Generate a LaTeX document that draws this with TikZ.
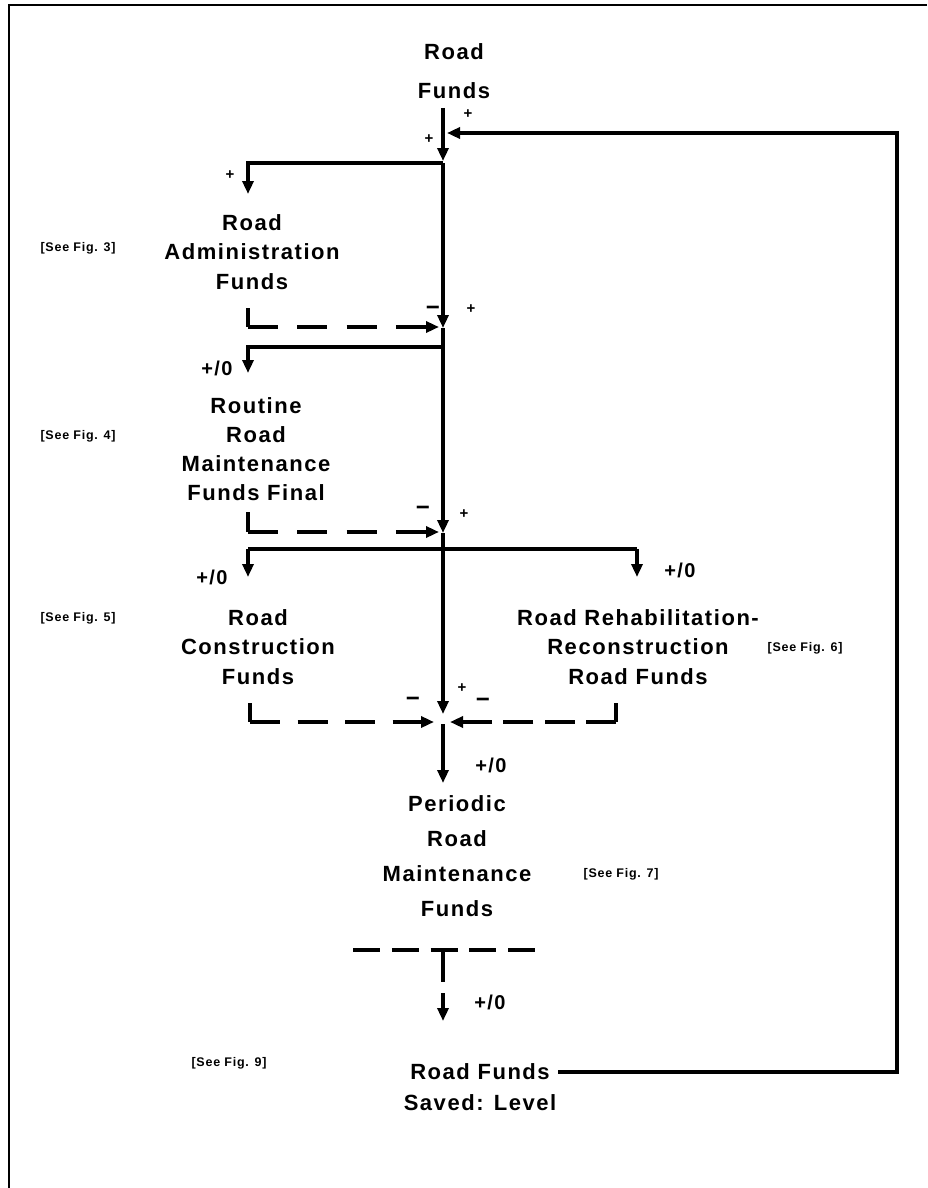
\documentclass[tikz,border=0pt]{standalone}
\usepackage{fontspec}
\usetikzlibrary{arrows.meta}
\newfontfamily\mf[LetterSpace=7]{Liberation Sans Bold}
\newfontfamily\seef[LetterSpace=6]{Liberation Sans Bold}
\newfontfamily\sgnf{Liberation Sans Bold}
\begin{document}
\begin{tikzpicture}[x=1pt,y=-1pt,
  tip/.tip={Triangle[length=13pt,width=11pt]},
  flow/.style={line width=4pt,-tip},
  ln/.style={line width=4pt},
  dsh/.style={line width=4pt,dash pattern=on 30pt off #1,-tip},
  tdash/.style={line width=4pt,dash pattern=on 27pt off 11.75pt},
  lbl/.style={font=\mf\fontsize{22}{29.5}\selectfont,align=center,inner sep=0pt},
  see/.style={font=\seef\fontsize{12.5}{15}\selectfont,inner sep=0pt},
  sgn/.style={font=\sgnf\fontsize{15}{16}\selectfont,inner sep=0pt},
  mns/.style={font=\sgnf\fontsize{24}{24}\selectfont,inner sep=0pt},
  pz/.style={font=\mf\fontsize{20}{22}\selectfont,inner sep=0pt},
  frame/.style={line width=1.5pt}]
\useasboundingbox (0,0) rectangle (927,1188);
% frame
\coordinate (fr1) at (927,5);
\coordinate (fr2) at (9,5);
\coordinate (fr3) at (9,1188);
\draw[frame] (fr1) -- (fr2) -- (fr3);

% text blocks
\node[lbl,font=\mf\fontsize{22}{39}\selectfont] (rf) at (454,71) {Road\\Funds};
\node[lbl] (ra) at (252,252) {Road\\Administration\\Funds};
\node[lbl,font=\mf\fontsize{22}{29}\selectfont] (rm) at (256,449) {Routine\\Road\\Maintenance\\Funds Final};
\node[lbl] (rc) at (258,647) {Road\\Construction\\Funds};
\node[lbl] (rr) at (638,647) {Road Rehabilitation-\\Reconstruction\\Road Funds};
\node[lbl,font=\mf\fontsize{22}{35}\selectfont] (pr) at (457,856) {Periodic\\Road\\Maintenance\\Funds};
\node[lbl,font=\mf\fontsize{22}{31}\selectfont] (sv) at (480,1087) {Road Funds\\Saved: Level};

\node[see] (see3) at (78,248) {[See Fig. 3]};
\node[see] (see4) at (78,436) {[See Fig. 4]};
\node[see] (see5) at (78,618) {[See Fig. 5]};
\node[see] (see6) at (805,648) {[See Fig. 6]};
\node[see] (see7) at (621,874) {[See Fig. 7]};
\node[see] (see9) at (229,1063) {[See Fig. 9]};

% junction coordinates
\coordinate (top) at (443,108);
\coordinate (a1) at (443,161);
\coordinate (j1) at (443,163);
\coordinate (l1) at (248,163);
\coordinate (l1e) at (248,194);
\coordinate (s2) at (443,328);
\coordinate (j2) at (443,347);
\coordinate (l2) at (248,347);
\coordinate (l2e) at (248,373);
\coordinate (s3) at (443,533);
\coordinate (j3) at (443,549);
\coordinate (l3) at (248,549);
\coordinate (l3e) at (248,577);
\coordinate (r3) at (637,549);
\coordinate (r3e) at (637,577);
\coordinate (s4) at (443,714);
\coordinate (p0) at (443,724);
\coordinate (p1) at (443,783);
\coordinate (tstem) at (443,950);
\coordinate (tbot) at (443,982);
\coordinate (tl) at (353,950);
\coordinate (tr) at (535,950);
\coordinate (v0) at (443,993);
\coordinate (v1) at (443,1021);
\coordinate (fb0) at (558,1072);
\coordinate (fb1) at (897,1072);
\coordinate (fb2) at (897,133);
\coordinate (fb3) at (447,133);
% dashed info-link coordinates
\coordinate (da0) at (248,308);
\coordinate (da1) at (248,327);
\coordinate (da2) at (439,327);
\coordinate (db0) at (248,512);
\coordinate (db1) at (248,532);
\coordinate (db2) at (439,532);
\coordinate (dc0) at (250,703);
\coordinate (dc1) at (250,722);
\coordinate (dc2) at (434,722);
\coordinate (dd0) at (616,703);
\coordinate (dd1) at (616,722);
\coordinate (dd2) at (450,722);

% main flow
\draw[flow] (top) -- (a1);
\draw[flow] (j1) -- (l1) -- (l1e);
\draw[flow] (j1) -- (s2);
\draw[ln] (s2) -- (j2);
\draw[flow] (j2) -- (l2) -- (l2e);
\draw[flow] (j2) -- (s3);
\draw[ln] (s3) -- (j3);
\draw[ln] (l3) -- (r3);
\draw[flow] (l3) -- (l3e);
\draw[flow] (r3) -- (r3e);
\draw[flow] (j3) -- (s4);
\draw[flow] (p0) -- (p1);
\draw[tdash] (tl) -- (tr);
\draw[ln] (tstem) -- (tbot);
\draw[flow] (v0) -- (v1);
\draw[line width=4.5pt,-tip] (fb0) -- (fb1) -- (fb2) -- (fb3);

% dashed links
\draw[ln] (da0) -- (da1);
\draw[dsh=19.3pt] (da1) -- (da2);
\draw[ln] (db0) -- (db1);
\draw[dsh=19.3pt] (db1) -- (db2);
\draw[ln] (dc0) -- (dc1);
\draw[dsh=17.5pt] (dc1) -- (dc2);
\draw[ln] (dd0) -- (dd1);
\draw[dsh=11.3pt] (dd1) -- (dd2);

% signs
\node[sgn] (p1s) at (468,114) {+};
\node[sgn] (p2s) at (429,139) {+};
\node[sgn] (p3s) at (230,175) {+};
\node[mns] (m1) at (433,311) {−};
\node[sgn] (p4s) at (471,309) {+};
\node[pz] (pz1) at (217,368) {+/0};
\node[mns] (m2) at (423,511) {−};
\node[sgn] (p5s) at (464,514) {+};
\node[pz] (pz2) at (212,577) {+/0};
\node[pz] (pz3) at (680,570) {+/0};
\node[mns] (m3) at (413,702) {−};
\node[mns] (m4) at (483,703) {−};
\node[sgn] (p6s) at (462,688) {+};
\node[pz] (pz4) at (491,765) {+/0};
\node[pz] (pz5) at (490,1002) {+/0};
\end{tikzpicture}
\end{document}
